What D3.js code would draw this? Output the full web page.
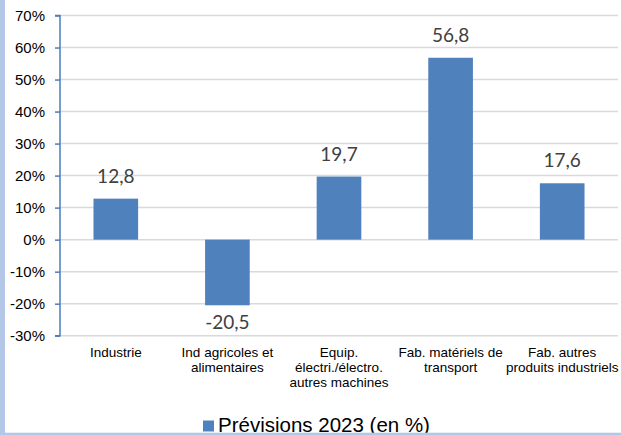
<!DOCTYPE html>
<html>
<head>
<meta charset="utf-8">
<script src="https://cdn.jsdelivr.net/npm/d3@7"></script>
<style>
  html, body { margin: 0; padding: 0; background: #fff; }
  svg { display: block; }
</style>
</head>
<body>
<svg id="chart" width="621" height="435"></svg>
<script>
// Sector forecasts for 2023, percent change
const categories = [
  "Industrie",
  "Ind agricoles et\nalimentaires",
  "Equip.\nélectri./électro.\nautres machines",
  "Fab. matériels de\ntransport",
  "Fab. autres\nproduits industriels"
];
const values = [12.8, -20.5, 19.7, 56.8, 17.6];
const valueLabels = ["12,8", "-20,5", "19,7", "56,8", "17,6"];
const yTicks = [-30, -20, -10, 0, 10, 20, 30, 40, 50, 60, 70];
const seriesName = "Prévisions 2023 (en %)";

const W = 621, H = 435;
const plot = { left: 60, right: 618, top: 15.5, bottom: 335.7 };
const barColor = "#4f81bd";

const svg = d3.select("#chart");

const x = d3.scaleBand()
  .domain(categories)
  .range([plot.left, plot.right])
  .paddingInner(0.6)
  .paddingOuter(0.3);

const y = d3.scaleLinear()
  .domain([-30, 70])
  .range([plot.bottom, plot.top]);

// Horizontal gridlines
svg.append("g")
  .selectAll("line")
  .data(yTicks)
  .join("line")
  .attr("x1", plot.left)
  .attr("x2", plot.right)
  .attr("y1", d => y(d))
  .attr("y2", d => y(d))
  .attr("stroke", "#d9d9d9")
  .attr("stroke-width", 1.5);

// Bars
svg.append("g")
  .selectAll("rect")
  .data(values)
  .join("rect")
  .attr("x", (d, i) => x(categories[i]))
  .attr("width", x.bandwidth())
  .attr("y", d => y(Math.max(0, d)))
  .attr("height", d => Math.abs(y(d) - y(0)))
  .attr("fill", barColor);

// Value labels
svg.append("g")
  .selectAll("text")
  .data(values)
  .join("text")
  .attr("x", (d, i) => x(categories[i]) + x.bandwidth() / 2)
  .attr("y", d => d >= 0 ? y(d) - 16 : y(d) + 24)
  .attr("text-anchor", "middle")
  .attr("font-family", "Lato, 'Open Sans', sans-serif")
  .attr("font-size", 19)
  .attr("fill", "#404040")
  .text((d, i) => valueLabels[i]);

// Y axis
const yAxis = d3.axisLeft(y)
  .tickValues(yTicks)
  .tickFormat(d => d + "%")
  .tickSize(5)
  .tickPadding(10);

const gy = svg.append("g")
  .attr("transform", `translate(${plot.left},0)`)
  .call(yAxis);
gy.select(".domain")
  .attr("d", `M-5,${plot.top}H0V${plot.bottom}H-5`)
  .attr("stroke", "#4a7ebb")
  .attr("stroke-width", 1.5);
gy.selectAll(".tick line")
  .attr("stroke", "#4a7ebb")
  .attr("stroke-width", 1.5);
gy.selectAll(".tick text")
  .attr("font-family", "'Liberation Sans', Arial, sans-serif")
  .attr("font-size", 15)
  .attr("fill", "#000");

// Category labels
const catG = svg.append("g")
  .selectAll("text")
  .data(categories)
  .join("text")
  .attr("text-anchor", "middle")
  .attr("font-family", "'Liberation Sans', Arial, sans-serif")
  .attr("font-size", 13.5)
  .attr("fill", "#000");
catG.each(function(d) {
  const t = d3.select(this);
  const cx = x(d) + x.bandwidth() / 2;
  d.split("\n").forEach((line, k) => {
    t.append("tspan")
      .attr("x", cx)
      .attr("y", 356.5 + k * 15.3)
      .text(line);
  });
});

// Legend
const legend = svg.append("g");
legend.append("rect")
  .attr("x", 203)
  .attr("y", 420.5)
  .attr("width", 11)
  .attr("height", 11)
  .attr("fill", barColor);
legend.append("text")
  .attr("x", 218)
  .attr("y", 431.7)
  .attr("font-family", "'Liberation Sans', Arial, sans-serif")
  .attr("font-size", 20.5)
  .attr("fill", "#000")
  .text(seriesName);

// Frame bands on left and bottom edges
svg.append("rect")
  .attr("x", 0).attr("y", 0)
  .attr("width", 5).attr("height", H)
  .attr("fill", "#b4c7e7");
svg.append("rect")
  .attr("x", 0).attr("y", 432.7)
  .attr("width", W).attr("height", H - 432.7)
  .attr("fill", "#b4c7e7");
</script>
</body>
</html>
